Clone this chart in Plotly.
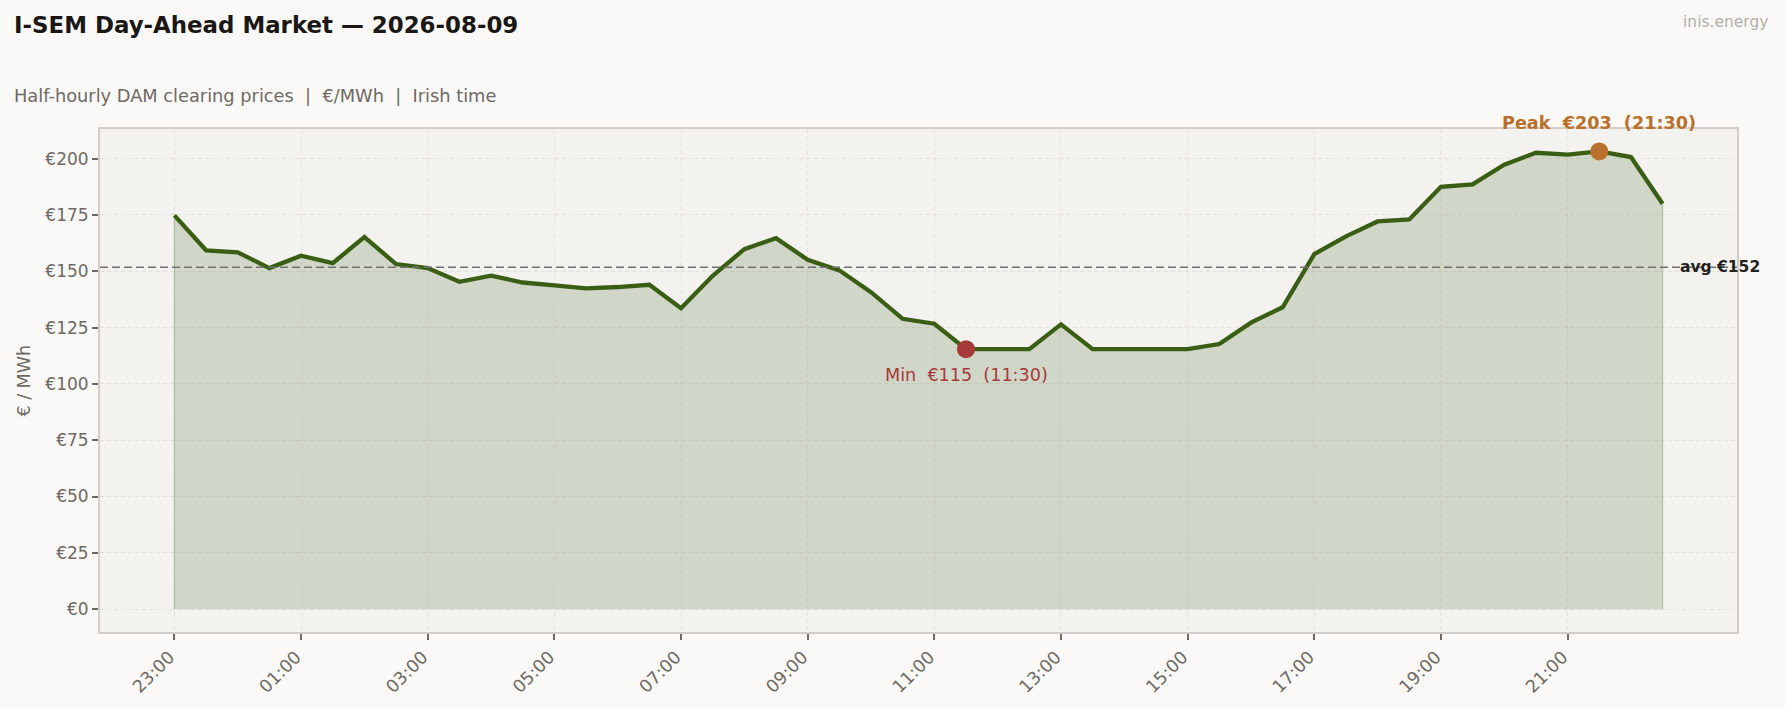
import plotly.graph_objects as go

# Half-hourly DAM clearing prices, 2026-08-09 (Irish time, trading day starts 23:00)
times = [
    "23:00", "23:30", "00:00", "00:30", "01:00", "01:30", "02:00", "02:30",
    "03:00", "03:30", "04:00", "04:30", "05:00", "05:30", "06:00", "06:30",
    "07:00", "07:30", "08:00", "08:30", "09:00", "09:30", "10:00", "10:30",
    "11:00", "11:30", "12:00", "12:30", "13:00", "13:30", "14:00", "14:30",
    "15:00", "15:30", "16:00", "16:30", "17:00", "17:30", "18:00", "18:30",
    "19:00", "19:30", "20:00", "20:30", "21:00", "21:30", "22:00", "22:30",
]
prices = [
    174.8, 159.3, 158.4, 151.4, 156.9, 153.6, 165.2, 153.2,
    151.4, 145.3, 148.0, 145.0, 143.7, 142.4, 143.0, 144.0,
    133.6, 148.0, 159.8, 164.7, 155.1, 150.4, 140.7, 128.9,
    126.7, 115.4, 115.4, 115.4, 126.4, 115.4, 115.4, 115.4,
    115.4, 117.7, 127.2, 134.0, 157.6, 165.5, 172.1, 173.0,
    187.5, 188.6, 197.3, 202.6, 201.8, 203.2, 200.7, 180.0,
]
y_ticks = [0, 25, 50, 75, 100, 125, 150, 175, 200]

LINE = "#3a5f14"
PEAK = "#b8702c"
LOW = "#a63a3a"
GREY = "#6e6964"
FONT = "DejaVu Sans"

avg = sum(prices) / len(prices)
i_max = prices.index(max(prices))
i_min = prices.index(min(prices))

fig = go.Figure()

# shaded area under the curve (with a faint outline like fill_between)
fig.add_trace(go.Scatter(
    x=[times[0]] + times + [times[-1]],
    y=[0] + prices + [0],
    mode="lines", fill="toself",
    fillcolor="rgba(58,95,20,0.18)",
    line=dict(color="rgba(58,95,20,0.22)", width=1.5),
    hoverinfo="skip",
))
fig.add_trace(go.Scatter(
    x=times, y=prices, mode="lines",
    line=dict(color=LINE, width=4.3),
))
fig.add_trace(go.Scatter(
    x=[times[i_max]], y=[prices[i_max]], mode="markers",
    marker=dict(color=PEAK, size=18),
))
fig.add_trace(go.Scatter(
    x=[times[i_min]], y=[prices[i_min]], mode="markers",
    marker=dict(color=LOW, size=18),
))

fig.add_hline(y=avg, line=dict(color="#707070", width=1.6, dash="8px,4px"))

fig.add_annotation(
    x=len(times) - 0.5, y=avg, xref="x", yref="y", text="<b>avg €%d</b>" % round(avg),
    showarrow=False, xanchor="left", yanchor="middle",
    font=dict(family=FONT, size=15.5, color="#222222"),
)
fig.add_annotation(
    x=times[i_max], y=prices[i_max], xref="x", yref="y", yshift=28,
    text="<b>Peak  €%d  (%s)</b>" % (round(prices[i_max]), times[i_max]),
    showarrow=False, xanchor="center", yanchor="middle",
    font=dict(family=FONT, size=17.6, color=PEAK),
)
fig.add_annotation(
    x=times[i_min], y=prices[i_min], xref="x", yref="y", yshift=-26,
    text="Min  €%d  (%s)" % (round(prices[i_min]), times[i_min]),
    showarrow=False, xanchor="center", yanchor="middle",
    font=dict(family=FONT, size=17.6, color=LOW),
)

# subtitle, watermark, y-axis title
fig.add_annotation(
    x=-0.0535, y=1.066, xref="paper", yref="paper",
    text="Half-hourly DAM clearing prices  |  €/MWh  |  Irish time",
    showarrow=False, xanchor="left", yanchor="middle",
    font=dict(family=FONT, size=17.8, color=GREY),
)
fig.add_annotation(
    x=1.0202, y=1.2135, xref="paper", yref="paper", text="inis.energy",
    showarrow=False, xanchor="right", yanchor="middle",
    font=dict(family=FONT, size=15.5, color="#b3afaa"),
)
fig.add_annotation(
    x=-0.047, y=0.5, xref="paper", yref="paper", text="€ / MWh", textangle=-90,
    showarrow=False, xanchor="center", yanchor="middle",
    font=dict(family=FONT, size=17.5, color=GREY),
)

fig.update_layout(
    width=1785, height=708,
    margin=dict(l=100, r=48, t=129, b=76),
    paper_bgcolor="#faf9f7", plot_bgcolor="#f3f2ef",
    showlegend=False,
    font=dict(family=FONT, color=GREY),
    title=dict(
        text="<b>I-SEM Day-Ahead Market — 2026-08-09</b>",
        x=14 / 1785, xref="container", xanchor="left",
        y=1 - 25 / 708, yref="container", yanchor="middle",
        font=dict(family=FONT, size=22.9, color="#1a1714"),
    ),
)
fig.update_xaxes(
    type="category", range=[-2.35, len(times) + 1.35],
    tickvals=times[::4], ticktext=times[::4], tickangle=-45,
    ticklabelshift=-5,
    tickfont=dict(family=FONT, size=17.5, color=GREY),
    ticks="outside", ticklen=6, tickwidth=1.5, tickcolor=GREY,
    showgrid=True, gridcolor="#e3e0db", gridwidth=1, griddash="4px,3px",
    showline=True, mirror=True, linecolor="#d2cec7", linewidth=2,
    zeroline=False,
)
fig.update_yaxes(
    range=[-10.15, 213.15], tickvals=y_ticks,
    ticktext=["€%d" % v for v in y_ticks],
    tickfont=dict(family=FONT, size=17, color=GREY),
    ticks="outside", ticklen=6, tickwidth=1.5, tickcolor=GREY,
    showgrid=True, gridcolor="#e3e0db", gridwidth=1, griddash="4px,3px",
    showline=True, mirror=True, linecolor="#d2cec7", linewidth=2,
    zeroline=False,
)

fig.write_html(
    "out.html",
    config={"displayModeBar": False},
    post_script="document.body.style.margin='0';",
)
